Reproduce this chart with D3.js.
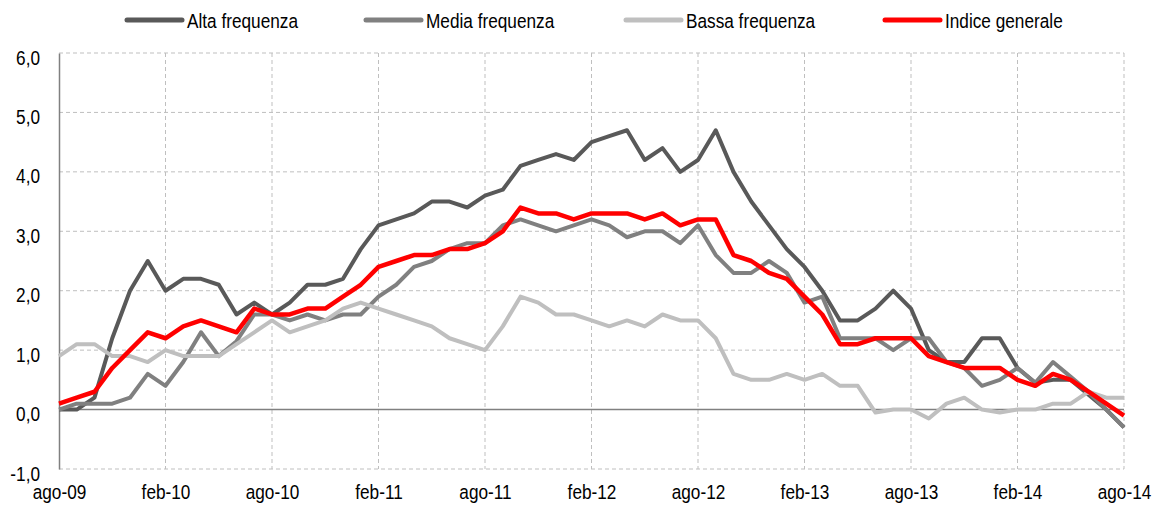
<!DOCTYPE html>
<html><head><meta charset="utf-8">
<script src="https://cdn.jsdelivr.net/npm/d3@7"></script>
<style>
body{margin:0;background:#fff;}
text{font-family:"Liberation Sans",Arial,sans-serif;}
</style></head>
<body><svg id="c" width="1170" height="510"></svg>
<script>
// 61 monthly observations, ago-09 .. ago-14
const tickLabels = ["ago-09","feb-10","ago-10","feb-11","ago-11","feb-12","ago-12","feb-13","ago-13","feb-14","ago-14"];
const seriesNames = ["Alta frequenza","Media frequenza","Bassa frequenza","Indice generale"];
const alta = [0.0,0.0,0.2,1.2,2.0,2.5,2.0,2.2,2.2,2.1,1.6,1.8,1.6,1.8,2.1,2.1,2.2,2.7,3.1,3.2,3.3,3.5,3.5,3.4,3.6,3.7,4.1,4.2,4.3,4.2,4.5,4.6,4.7,4.2,4.4,4.0,4.2,4.7,4.0,3.5,3.1,2.7,2.4,2.0,1.5,1.5,1.7,2.0,1.7,1.0,0.8,0.8,1.2,1.2,0.7,0.45,0.5,0.5,0.25,0.0,-0.3];
const media = [0.0,0.1,0.1,0.1,0.2,0.6,0.4,0.8,1.3,0.9,1.15,1.6,1.6,1.5,1.6,1.5,1.6,1.6,1.9,2.1,2.4,2.5,2.7,2.8,2.8,3.1,3.2,3.1,3.0,3.1,3.2,3.1,2.9,3.0,3.0,2.8,3.1,2.6,2.3,2.3,2.5,2.3,1.8,1.9,1.2,1.2,1.2,1.0,1.2,1.2,0.8,0.7,0.4,0.5,0.7,0.45,0.8,0.55,0.3,0.0,-0.3];
const bassa = [0.9,1.1,1.1,0.9,0.9,0.8,1.0,0.9,0.9,0.9,1.1,1.3,1.5,1.3,1.4,1.5,1.7,1.8,1.7,1.6,1.5,1.4,1.2,1.1,1.0,1.4,1.9,1.8,1.6,1.6,1.5,1.4,1.5,1.4,1.6,1.5,1.5,1.2,0.6,0.5,0.5,0.6,0.5,0.6,0.4,0.4,-0.05,0.0,0.0,-0.15,0.1,0.2,0.0,-0.05,0.0,0.0,0.1,0.1,0.3,0.2,0.2];
const indice = [0.1,0.2,0.3,0.7,1.0,1.3,1.2,1.4,1.5,1.4,1.3,1.7,1.6,1.6,1.7,1.7,1.9,2.1,2.4,2.5,2.6,2.6,2.7,2.7,2.8,3.0,3.4,3.3,3.3,3.2,3.3,3.3,3.3,3.2,3.3,3.1,3.2,3.2,2.6,2.5,2.3,2.2,1.9,1.6,1.1,1.1,1.2,1.2,1.2,0.9,0.8,0.7,0.7,0.7,0.5,0.4,0.6,0.5,0.3,0.1,-0.1];
const yTicks = [-1,0,1,2,3,4,5,6];
const colors = ["#595959","#808080","#bfbfbf","#ff0000"];

const FS = 20.5, SX = 0.84; // tall, condensed text like the reference
const svg = d3.select("#c");
const L = 59, R = 1124, T = 53, B = 469;
const n = alta.length;
const x = d3.scaleLinear().domain([0, n-1]).range([L, R]);
const y = d3.scaleLinear().domain([-1, 6]).range([B, T]);
const tickIdx = tickLabels.map((d,i)=>i*6);
const fmt = v => d3.format(".1f")(v).replace(".", ",").replace("\u2212","-");

// gridlines
const g = svg.append("g");
g.selectAll("line.h").data(yTicks.filter(v=>v!==0)).join("line")
  .attr("x1", L).attr("x2", R).attr("y1", d=>y(d)).attr("y2", d=>y(d))
  .attr("stroke", "#bfbfbf").attr("stroke-width", 1).attr("stroke-dasharray", "4,3");
g.selectAll("line.v").data(tickIdx.slice(1)).join("line")
  .attr("x1", d=>x(d)).attr("x2", d=>x(d)).attr("y1", T).attr("y2", B)
  .attr("stroke", "#bfbfbf").attr("stroke-width", 1).attr("stroke-dasharray", "4,3");

// y axis
const yAxis = d3.axisLeft(y).tickValues(yTicks).tickFormat(fmt).tickSize(0).tickPadding(0);
const ya = svg.append("g").attr("transform", `translate(${L},0)`).call(yAxis);
ya.select(".domain").attr("stroke", "#808080").attr("stroke-width", 1.5);
ya.selectAll("text").attr("font-size", FS).attr("fill", "#000").attr("x", 0).attr("dy", null)
  .attr("transform", `translate(-19,11) scale(${SX},1)`)
  .attr("font-family", "Liberation Sans, Arial, sans-serif");

// zero line
svg.append("line").attr("x1", L).attr("x2", R).attr("y1", y(0)).attr("y2", y(0))
  .attr("stroke", "#808080").attr("stroke-width", 1.5);

// x labels
const xAxis = d3.axisBottom(x).tickValues(tickIdx).tickFormat((d,i)=>tickLabels[i]).tickSize(0).tickPadding(0);
const xa = svg.append("g").attr("transform", `translate(0,${B})`).call(xAxis);
xa.select(".domain").remove();
xa.selectAll("text").attr("font-size", FS).attr("fill", "#000").attr("y", 0).attr("dy", null)
  .attr("transform", `translate(0,30) scale(${SX},1)`)
  .attr("font-family", "Liberation Sans, Arial, sans-serif");

// lines
const data = [alta, media, bassa, indice];
const line = d3.line().x((d,i)=>x(i)).y(d=>y(d));
svg.append("g").selectAll("path").data(data).join("path")
  .attr("d", line).attr("fill", "none")
  .attr("stroke", (d,i)=>colors[i]).attr("stroke-width", (d,i)=> i===3 ? 4.5 : 4)
  .attr("stroke-linejoin", "round");

// legend
const legX = [127, 366, 626, 885];
const leg = svg.append("g");
seriesNames.forEach((name,i)=>{
  leg.append("line").attr("x1", legX[i]).attr("x2", legX[i]+55).attr("y1", 20).attr("y2", 20)
    .attr("stroke", colors[i]).attr("stroke-width", 5).attr("stroke-linecap", "round");
  leg.append("text").attr("transform", `translate(${legX[i]+60},28) scale(${SX},1)`)
    .attr("font-size", FS).text(name);
});
</script></body></html>
